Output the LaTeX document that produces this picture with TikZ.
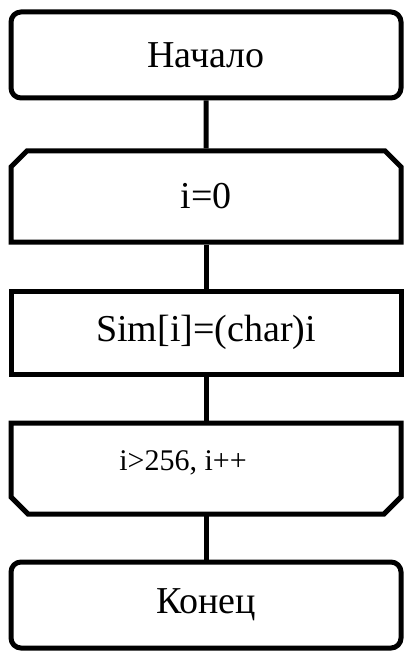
\documentclass[tikz,border=0pt]{standalone}
\usepackage{fontspec}
\setmainfont{Liberation Serif}
\usetikzlibrary{shapes.misc}
\tikzset{
  block/.style={draw, line width=5pt, minimum width=390pt, inner sep=0pt,
    font=\fontsize{38}{44}\selectfont},
  terminal/.style={block, rounded corners=10pt, minimum height=86pt},
  process/.style={block, rectangle, minimum height=83pt},
  loopstart/.style={block, chamfered rectangle, chamfered rectangle xsep=17pt,
    chamfered rectangle corners={north west,north east}, minimum height=91pt},
  loopend/.style={block, rectangle, draw=none, outer sep=0pt, minimum height=91pt},
  flow/.style={line width=5pt},
}
\begin{document}
\begin{tikzpicture}[x=1pt,y=-1pt]
  \useasboundingbox[fill=white] (0,0) rectangle (405,652);
  \node[terminal]  (start) at (206,55)    {Начало};
  \node[loopstart] (init)  at (206,196.5) {i=0};
  \node[process]   (body)  at (206,332.5) {Sim[i]=(char)i};
  \node[loopend, label={[font=\fontsize{30}{36}\selectfont, xshift=-23pt, yshift=5.5pt]center:{i>256, i++}}]
    (cond) at (206,468.5) {};
  \node[terminal]  (stop)  at (206,605)   {Конец};
  % end of loop, corners cut at the bottom
  \draw[flow, line join=miter] (cond.north west) -- (cond.north east)
    -- ([yshift=17pt]cond.south east) -- ([xshift=-17pt]cond.south east)
    -- ([xshift=17pt]cond.south west) -- ([yshift=17pt]cond.south west) -- cycle;
  % connectors
  \draw[flow] (start) -- (init);
  \draw[flow] (init) -- (body);
  \draw[flow] (body) -- (cond);
  \draw[flow] (cond) -- (stop);
\end{tikzpicture}
\end{document}
